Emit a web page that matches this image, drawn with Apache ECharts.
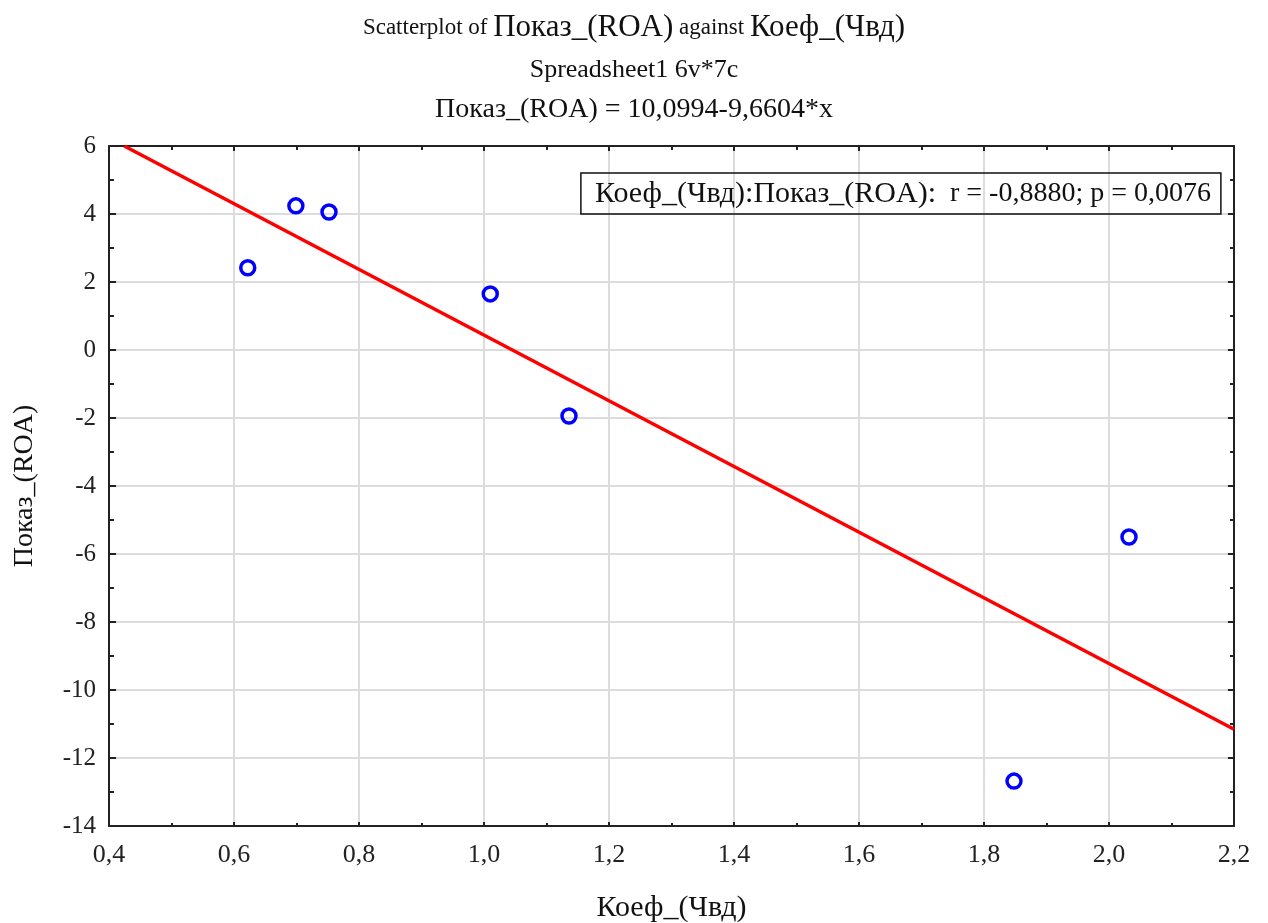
<!DOCTYPE html>
<html><head><meta charset="utf-8">
<script src="https://cdn.jsdelivr.net/npm/echarts@6/dist/echarts.min.js"></script>
<style>html,body{margin:0;padding:0;background:#fff}#c{width:1268px;height:923px}</style>
</head><body><div id="c"></div>
<script>
const xValues = [0.622, 0.699, 0.752, 1.010, 1.136, 1.848, 2.032];
const yValues = [2.42, 4.24, 4.06, 1.65, -1.94, -12.68, -5.50];
const intercept = 10.0994;
const slope = -9.6604;
const xTicks = {min: 0.4, max: 2.2, interval: 0.2};
const yTicks = {min: -14, max: 6, interval: 2};
const statLabel = 'Коеф_(Чвд):Показ_(ROA):';
const statValues = '  r = -0,8880; p = 0,0076';

const points = xValues.map((x, i) => [x, yValues[i]]);
const xStart = (yTicks.max - intercept) / slope;
const lineData = [[xStart, intercept + slope * xStart], [xTicks.max, intercept + slope * xTicks.max]];
const fmt = v => (Math.abs(v) < 1e-9 ? 0 : v).toFixed(1).replace('.', ',');
const serif = '"Liberation Serif", "DejaVu Serif", serif';

const chart = echarts.init(document.getElementById('c'));
const axisLine = {show: true, onZero: false, lineStyle: {color: '#222', width: 2}};
chart.setOption({
  animation: false,
  textStyle: {fontFamily: serif},
  title: [
    {text: '{s|Scatterplot of }{b|Показ_(ROA)}{s| against }{b|Коеф_(Чвд)}', left: 'center', top: 7,
     textStyle: {fontWeight: 'normal', rich: {
       s: {fontFamily: serif, fontSize: 23, fontWeight: 'normal', color: '#111'},
       b: {fontFamily: serif, fontSize: 31, fontWeight: 'normal', color: '#111'}}}},
    {text: 'Spreadsheet1 6v*7c', left: 'center', top: 52, textStyle: {fontFamily: serif, fontSize: 26, fontWeight: 'normal', color: '#111'}},
    {text: 'Показ_(ROA) = 10,0994-9,6604*x', left: 'center', top: 91, textStyle: {fontFamily: serif, fontSize: 28, fontWeight: 'normal', color: '#111'}},
    {text: '{a|' + statLabel + '}{v|' + statValues + '}', right: 47, top: 173, borderColor: '#111', borderWidth: 1.5, padding: [6, 10, 5, 14],
     textStyle: {fontWeight: 'normal', rich: {
       a: {fontFamily: serif, fontSize: 30, color: '#111'},
       v: {fontFamily: serif, fontSize: 28, color: '#111'}}}}
  ],
  grid: {left: 109, right: 34, top: 146, bottom: 97, containLabel: false, outerBoundsMode: 'none'},
  xAxis: [
    {type: 'value', min: xTicks.min, max: xTicks.max, interval: xTicks.interval, position: 'bottom',
     name: 'Коеф_(Чвд)', nameLocation: 'middle', nameGap: 67,
     nameTextStyle: {fontFamily: serif, fontSize: 30, color: '#111'},
     axisLine, axisTick: {show: true, inside: true, length: 4, lineStyle: {color: '#222', width: 2}},
     minorTick: {show: true, splitNumber: 2, length: 3, lineStyle: {color: '#222', width: 2}},
     axisLabel: {formatter: fmt, fontFamily: serif, fontSize: 26, color: '#222', margin: 16},
     splitLine: {show: true, lineStyle: {color: '#dcdcdc', width: 2}}},
    {type: 'value', min: xTicks.min, max: xTicks.max, interval: xTicks.interval, position: 'top',
     axisLine, axisTick: {show: true, inside: true, length: 5, lineStyle: {color: '#222', width: 2}},
     minorTick: {show: true, splitNumber: 2, length: 4, lineStyle: {color: '#222', width: 2}},
     axisLabel: {show: false}, splitLine: {show: false}}
  ],
  yAxis: [
    {type: 'value', min: yTicks.min, max: yTicks.max, interval: yTicks.interval, position: 'left',
     name: 'Показ_(ROA)', nameLocation: 'middle', nameGap: 70,
     nameTextStyle: {fontFamily: serif, fontSize: 28, color: '#111'},
     axisLine, axisTick: {show: true, inside: true, length: 7, lineStyle: {color: '#222', width: 2}},
     minorTick: {show: true, splitNumber: 2, length: 5, lineStyle: {color: '#222', width: 2}},
     axisLabel: {fontFamily: serif, fontSize: 25, color: '#222', margin: 13},
     splitLine: {show: true, lineStyle: {color: '#dcdcdc', width: 2}}},
    {type: 'value', min: yTicks.min, max: yTicks.max, interval: yTicks.interval, position: 'right',
     axisLine, axisTick: {show: true, inside: true, length: 6, lineStyle: {color: '#222', width: 2}},
     minorTick: {show: true, splitNumber: 2, length: 4, lineStyle: {color: '#222', width: 2}},
     axisLabel: {show: false}, splitLine: {show: false}}
  ],
  series: [
    {type: 'line', data: lineData, showSymbol: false, symbol: 'none',
     lineStyle: {color: '#ff0000', width: 3.5}, z: 2},
    {type: 'scatter', data: points, symbol: 'circle', symbolSize: 14,
     itemStyle: {color: 'rgba(255,255,255,0)', borderColor: '#0000ff', borderWidth: 3.5, opacity: 1}, z: 3}
  ]
});
</script></body></html>
